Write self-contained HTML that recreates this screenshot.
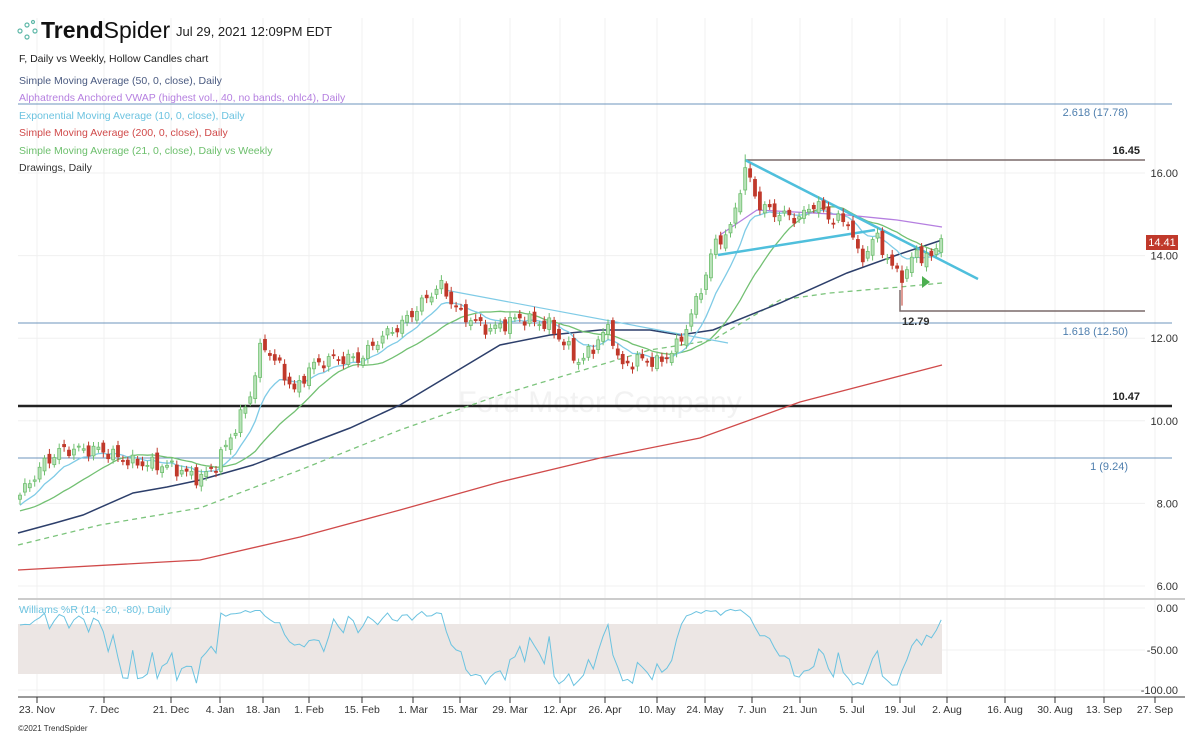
<!DOCTYPE html>
<html><head><meta charset="utf-8"><style>
body{margin:0;background:#fff;font-family:"Liberation Sans",sans-serif}
svg text{font-family:"Liberation Sans",sans-serif}
</style></head><body>
<svg id="s" width="1200" height="736" xmlns="http://www.w3.org/2000/svg"></svg>
<script>
const S=document.getElementById('s');let h='';
const X0=20,DX=4.9;
const py=p=>173+(16-p)*41.3;
const dates=[["23. Nov",37],["7. Dec",104],["21. Dec",171],["4. Jan",220],["18. Jan",263],["1. Feb",309],["15. Feb",362],["1. Mar",413],["15. Mar",460],["29. Mar",510],["12. Apr",560],["26. Apr",605],["10. May",657],["24. May",705],["7. Jun",752],["21. Jun",800],["5. Jul",852],["19. Jul",900],["2. Aug",947],["16. Aug",1005],["30. Aug",1055],["13. Sep",1104],["27. Sep",1155]];
dates.forEach(d=>{h+=`<line x1="${d[1]}" y1="18" x2="${d[1]}" y2="697" stroke="#f0f0f0"/><line x1="${d[1]}" y1="697" x2="${d[1]}" y2="703" stroke="#333"/><text x="${d[1]}" y="713" font-size="10.5" fill="#333" text-anchor="middle">${d[0]}</text>`});
[16,14,12,10,8,6].forEach(p=>{const y=py(p);h+=`<line x1="18" y1="${y}" x2="1145" y2="${y}" stroke="#f0f0f0"/><text x="1178" y="${y+4}" font-size="11" fill="#333" text-anchor="end">${p.toFixed(2)}</text>`});
[[0,608,"0.00"],[-50,650,"-50.00"],[-100,690,"-100.00"]].forEach(a=>{h+=`<line x1="18" y1="${a[1]}" x2="1145" y2="${a[1]}" stroke="#f0f0f0"/><text x="1178" y="${a[1]+4}" font-size="11" fill="#333" text-anchor="end">${a[2]}</text>`});
h+=`<line x1="18" y1="599" x2="1185" y2="599" stroke="#ccc" stroke-width="2"/><line x1="18" y1="697" x2="1185" y2="697" stroke="#333"/>`;
h+=`<rect x="18" y="624" width="924" height="50" fill="#ece6e4"/>`;
h+=`<text x="600" y="412" font-size="30" fill="#f2f2f2" text-anchor="middle">Ford Motor Company</text>`;
h+=`<line x1="18" y1="104" x2="1172" y2="104" stroke="#6d95bd" stroke-width="1"/><text x="1128" y="116" font-size="11" fill="#4f7fae" text-anchor="end">2.618 (17.78)</text>`;
h+=`<line x1="18" y1="323" x2="1172" y2="323" stroke="#6d95bd"/><text x="1128" y="335" font-size="11" fill="#4f7fae" text-anchor="end">1.618 (12.50)</text>`;
h+=`<line x1="18" y1="458" x2="1172" y2="458" stroke="#6d95bd"/><text x="1128" y="470" font-size="11" fill="#4f7fae" text-anchor="end">1 (9.24)</text>`;
h+=`<line x1="18" y1="406" x2="1172" y2="406" stroke="#222" stroke-width="2.5"/><text x="1140" y="400" font-size="11" font-weight="bold" fill="#222" text-anchor="end">10.47</text>`;
h+=`<line x1="745" y1="160" x2="1145" y2="160" stroke="#7a6a6a" stroke-width="1.5"/><text x="1140" y="154" font-size="11" font-weight="bold" fill="#222" text-anchor="end">16.45</text>`;
h+=`<polyline points="900,290 900,311 1145,311" fill="none" stroke="#7a6a6a" stroke-width="1.5"/><text x="902" y="325" font-size="11" font-weight="bold" fill="#333">12.79</text>`;
const K=[[20,8.2],[45,9.0],[62,9.3],[100,9.3],[130,9.0],[170,8.9],[200,8.6],[215,8.9],[235,9.8],[250,10.6],[262,11.9],[280,11.3],[295,10.7],[310,11.3],[330,11.5],[360,11.5],[380,12.0],[400,12.3],[420,12.8],[440,13.3],[460,12.6],[490,12.2],[520,12.5],[550,12.3],[580,11.4],[610,12.3],[620,11.3],[640,11.5],[660,11.4],[680,11.9],[700,13.1],[715,14.3],[730,14.6],[745,16.1],[760,15.2],[780,15.0],[800,14.9],[815,15.3],[830,14.9],[850,14.8],[860,13.8],[875,14.5],[895,13.6],[905,13.5],[915,14.1],[930,13.9],[942,14.41]];
function interp(x){for(let i=0;i<K.length-1;i++){if(x<=K[i+1][0]){const t=(x-K[i][0])/(K[i+1][0]-K[i][0]);return K[i][1]+t*(K[i+1][1]-K[i][1]);}}return K[K.length-1][1];}
const N=Math.round((942-X0)/DX)+1;const C=[],O=[],H=[],L=[];
for(let i=0;i<N;i++){const x=X0+i*DX;let c=interp(x)+0.12*Math.sin(i*1.7)+0.07*Math.sin(i*3.1);if(i==N-1)c=14.41;C.push(c);const o=i?C[i-1]+0.1*Math.sin(i*2.3):c-0.1;O.push(o);H.push(Math.max(o,c)+0.06+0.07*Math.abs(Math.sin(i*1.3)));L.push(Math.min(o,c)-0.06-0.07*Math.abs(Math.cos(i*1.1)));}
H[Math.round((745-X0)/DX)]=16.45;L[Math.round((900-X0)/DX)]=12.79;
function pl(pts,col,w,dash){return `<polyline points="${pts.map(p=>p[0].toFixed(1)+','+p[1].toFixed(1)).join(' ')}" fill="none" stroke="${col}" stroke-width="${w}" ${dash?'stroke-dasharray="5,4"':''}/>`}
h+=pl([[18,570],[200,560],[300,537],[400,510],[500,482],[600,458],[700,438],[800,402],[942,365]],"#d04a4a",1.3);
h+=pl([[18,545],[100,525],[200,508],[300,470],[400,430],[500,395],[550,380],[600,365],[650,350],[713,340],[780,300],[830,293],[900,287],[942,283]],"#7cc47c",1.3,1);
h+=pl([[18,533],[55,523],[83,515],[133,493],[167,487],[200,480],[253,465],[300,447],[350,428],[400,405],[450,375],[500,345],[550,335],[600,330],[650,330],[680,335],[713,330],[780,303],[847,273],[897,255],[942,240]],"#2d3f6b",1.5);
let e=C[0]-0.3,ema=[],sma=[];const pre=Array(20).fill(C[0]-0.4);const all=pre.concat(C);
C.forEach((c,i)=>{e=e+(c-e)*2/11;ema.push([X0+i*DX,py(e)]);let s=0;for(let k=i;k<i+21;k++)s+=all[k];sma.push([X0+i*DX,py(s/21)]);});
h+=pl(sma,"#72c072",1.3);h+=pl(ema,"#7fcbe6",1.3);
h+=pl([[720,235],[757,210],[813,213],[847,215],[897,220],[942,227]],"#b57fe0",1.3);
h+=`<line x1="445" y1="290" x2="728" y2="343" stroke="#7fcbe6" stroke-width="1.2"/>`;
h+=`<line x1="745" y1="160" x2="978" y2="279" stroke="#4fbfdc" stroke-width="2.5"/><line x1="718" y1="255" x2="875" y2="230" stroke="#4fbfdc" stroke-width="2.5"/>`;
h+=`<polygon points="922,276 930,282 922,288" fill="#4caf50"/>`;
for(let i=0;i<N;i++){const x=X0+i*DX,up=C[i]>=O[i],col=up?"#6fbf6f":"#c0392b";const t=py(Math.max(O[i],C[i])),b=py(Math.min(O[i],C[i]));
h+=`<line x1="${x}" y1="${py(H[i])}" x2="${x}" y2="${py(L[i])}" stroke="${col}"/><rect x="${x-1.5}" y="${t}" width="3" height="${Math.max(1,b-t)}" fill="${up?'#b9e2b9':'#c0392b'}" stroke="${col}" stroke-width="0.8"/>`;}
const W=[];for(let i=0;i<N;i++){const a=Math.max(0,i-13);let hh=-1e9,ll=1e9;for(let k=a;k<=i;k++){hh=Math.max(hh,H[k]);ll=Math.min(ll,L[k]);}const r=-100*(hh-C[i])/(hh-ll||1);W.push([X0+i*DX,608+(-r)*0.82]);}
h+=pl(W,"#6cc3e0",1);
h+=`<rect x="1146" y="235" width="32" height="15" fill="#c0392b"/><text x="1162" y="246" font-size="11" fill="#fff" text-anchor="middle">14.41</text>`;
h+=`<g fill="none" stroke="#5fb8a8" stroke-width="1.2"><circle cx="20" cy="31" r="2"/><circle cx="27" cy="25" r="2"/><circle cx="27" cy="37" r="2"/><circle cx="33" cy="22" r="1.5"/><circle cx="35" cy="31" r="2"/></g>`;
h+=`<text x="41" y="38" font-size="23" fill="#111"><tspan font-weight="bold">Trend</tspan><tspan>Spider</tspan></text><text x="176" y="36" font-size="13" fill="#222">Jul 29, 2021 12:09PM EDT</text>`;
[["F, Daily vs Weekly, Hollow Candles chart","#222",62],["Simple Moving Average (50, 0, close), Daily","#4a5a80",84],["Alphatrends Anchored VWAP (highest vol., 40, no bands, ohlc4), Daily","#b57fe0",101],["Exponential Moving Average (10, 0, close), Daily","#6cc3e0",119],["Simple Moving Average (200, 0, close), Daily","#d04a4a",136],["Simple Moving Average (21, 0, close), Daily vs Weekly","#6cbf6c",154],["Drawings, Daily","#333",171]].forEach(l=>{h+=`<text x="19" y="${l[2]}" font-size="10.5" fill="${l[1]}">${l[0]}</text>`});
h+=`<text x="19" y="613" font-size="10.5" fill="#6cc3e0">Williams %R (14, -20, -80), Daily</text>`;
h+=`<text x="18" y="731" font-size="8" fill="#333">©2021 TrendSpider</text>`;
S.innerHTML=h;
</script>
</body></html>
